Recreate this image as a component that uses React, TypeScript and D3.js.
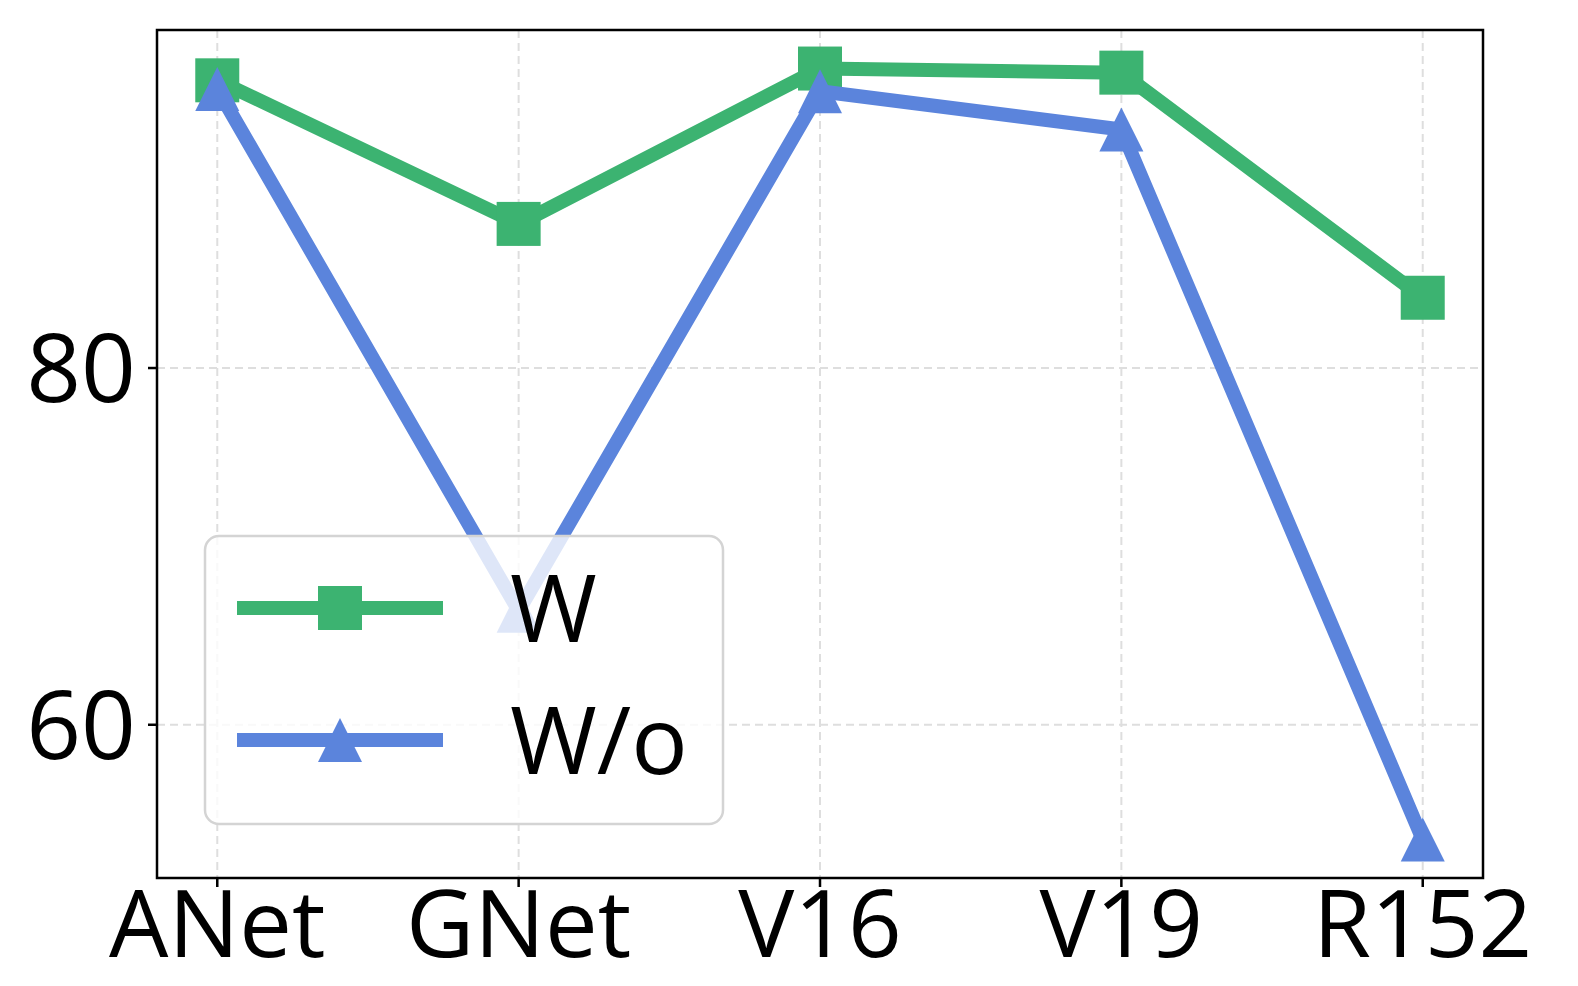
import React from "react";
import * as d3 from "d3";

const categories = ["ANet", "GNet", "V16", "V19", "R152"];
const seriesW = [96.13, 88.08, 96.79, 96.56, 83.94];
const seriesWo = [95.65, 66.39, 95.52, 93.37, 53.57];
const yTicks = [60, 80];
const legendLabels = ["W", "W/o"];

const W = 1578;
const H = 986;
const plot = { left: 157, right: 1483, top: 30, bottom: 878 };
const GREEN = "#3cb371";
const BLUE = "#5b84dc";
const FONT = "'Open Sans', 'Noto Sans', sans-serif";

export default function App() {
  const all = [...seriesW, ...seriesWo];
  const lo = d3.min(all)!;
  const hi = d3.max(all)!;
  const pad = (hi - lo) * 0.05;
  const x = d3
    .scaleLinear()
    .domain([-0.2, categories.length - 1 + 0.2])
    .range([plot.left, plot.right]);
  const y = d3.scaleLinear().domain([lo - pad, hi + pad]).range([plot.bottom, plot.top]);

  const line = d3
    .line<number>()
    .x((_, i) => x(i))
    .y((d) => y(d));

  const ms = 44;
  const sq = (cx: number, cy: number, color: string, key: string) => (
    <rect key={key} x={cx - ms / 2} y={cy - ms / 2} width={ms} height={ms} fill={color} />
  );
  const tri = (cx: number, cy: number, color: string, key: string) => (
    <path
      key={key}
      d={`M${cx},${cy - ms / 2}L${cx - ms / 2},${cy + ms / 2}L${cx + ms / 2},${cy + ms / 2}Z`}
      fill={color}
    />
  );

  const grid = "#dedede";
  const legend = { x: 205, y: 536, w: 518, h: 288 };
  const rows = [608, 740];

  return (
    <svg
      width={W}
      height={H}
      style={{ position: "fixed", left: 0, top: 0, background: "#fff" }}
      fontFamily={FONT}
    >
      <rect x={0} y={0} width={W} height={H} fill="#fff" />
      {/* grid */}
      {categories.map((c, i) => (
        <line
          key={"gx" + c}
          x1={x(i)}
          x2={x(i)}
          y1={plot.top}
          y2={plot.bottom}
          stroke={grid}
          strokeWidth={2}
          strokeDasharray="8,5"
        />
      ))}
      {yTicks.map((t) => (
        <line
          key={"gy" + t}
          x1={plot.left}
          x2={plot.right}
          y1={y(t)}
          y2={y(t)}
          stroke={grid}
          strokeWidth={2}
          strokeDasharray="8,5"
        />
      ))}
      {/* series W */}
      <path
        d={line(seriesW)!}
        fill="none"
        stroke={GREEN}
        strokeWidth={14}
        strokeLinejoin="round"
      />
      {seriesW.map((v, i) => sq(x(i), y(v), GREEN, "w" + i))}
      {/* series W/o */}
      <path
        d={line(seriesWo)!}
        fill="none"
        stroke={BLUE}
        strokeWidth={14}
        strokeLinejoin="round"
      />
      {seriesWo.map((v, i) => tri(x(i), y(v), BLUE, "wo" + i))}

      {/* frame */}
      <rect
        x={plot.left}
        y={plot.top}
        width={plot.right - plot.left}
        height={plot.bottom - plot.top}
        fill="none"
        stroke="#000"
        strokeWidth={2.5}
      />
      {/* x ticks */}
      {categories.map((c, i) => (
        <g key={"xt" + c}>
          <line x1={x(i)} x2={x(i)} y1={plot.bottom} y2={plot.bottom + 9} stroke="#000" strokeWidth={2.5} />
          <text x={x(i)} y={957} textAnchor="middle" fontSize={94} fill="#000">
            {c}
          </text>
        </g>
      ))}
      {/* y ticks */}
      {yTicks.map((t) => (
        <g key={"yt" + t}>
          <line x1={plot.left - 9} x2={plot.left} y1={y(t)} y2={y(t)} stroke="#000" strokeWidth={2.5} />
          <text x={136} y={y(t) + 34} textAnchor="end" fontSize={96} fill="#000">
            {t}
          </text>
        </g>
      ))}

      {/* legend */}
      <rect
        x={legend.x}
        y={legend.y}
        width={legend.w}
        height={legend.h}
        rx={14}
        ry={14}
        fill="#fff"
        fillOpacity={0.8}
        stroke="#d4d4d4"
        strokeWidth={2.5}
      />
      {legendLabels.map((lab, i) => {
        const cy = rows[i];
        const color = i === 0 ? GREEN : BLUE;
        return (
          <g key={"lg" + lab}>
            <line x1={237} x2={443} y1={cy} y2={cy} stroke={color} strokeWidth={14} />
            {i === 0 ? sq(340, cy, color, "lm0") : tri(340, cy, color, "lm1")}
            <text x={510} y={cy + 34} fontSize={94} fill="#000">
              {lab}
            </text>
          </g>
        );
      })}
    </svg>
  );
}
